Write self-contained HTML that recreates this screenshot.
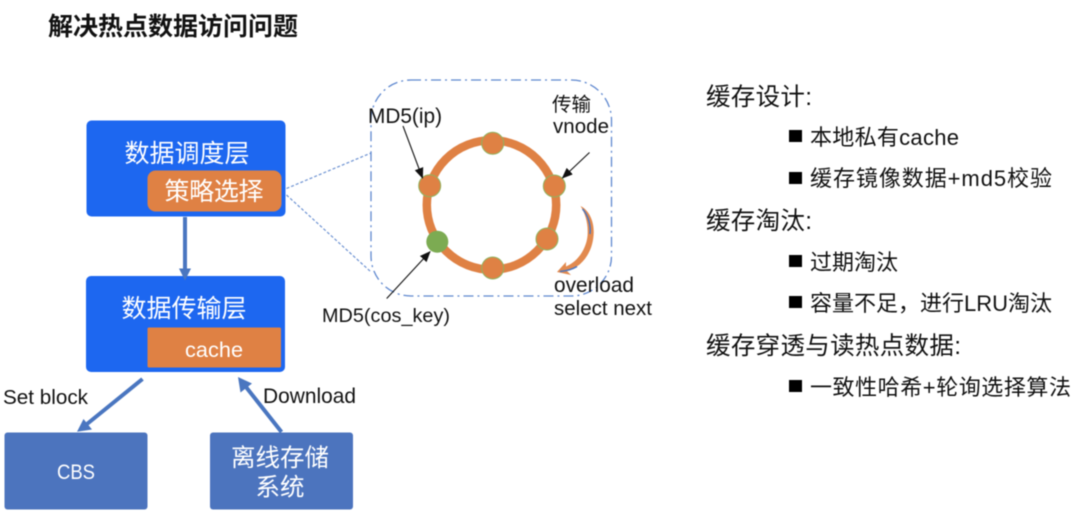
<!DOCTYPE html>
<html>
<head>
<meta charset="utf-8">
<style>
html,body{margin:0;padding:0;background:#fff;width:1080px;height:524px;overflow:hidden}
svg{display:block;filter:blur(.4px)}
text{font-family:"Liberation Sans","Noto Sans CJK SC",sans-serif;fill:#111}
.w{fill:#fff}
</style>
</head>
<body>
<svg width="1080" height="524" viewBox="0 0 1080 524" xmlns="http://www.w3.org/2000/svg">
<defs>
<marker id="a" markerWidth="11" markerHeight="10" refX="10" refY="5" orient="auto" markerUnits="userSpaceOnUse"><path d="M0 0.500L11 5L0 9.500Z" fill="#111"/></marker>
</defs>
<text x="48" y="35" font-size="25" font-weight="700" textLength="250">解决热点数据访问问题</text>

<!-- left boxes -->
<rect x="86.500" y="120.500" width="199" height="96" rx="5" fill="#1d67f0"/>
<rect x="147.500" y="170.500" width="134" height="41" rx="8" fill="#df8144"/>
<text class="w" x="124.500" y="162" font-size="25" textLength="125">数据调度层</text>
<text class="w" x="164.500" y="200" font-size="25" textLength="99">策略选择</text>

<rect x="86" y="276" width="199" height="96" rx="5" fill="#1d67f0"/>
<rect x="147.500" y="327.500" width="133.500" height="40" rx="1.500" fill="#df8144"/>
<text class="w" x="121.500" y="317" font-size="25" textLength="125">数据传输层</text>
<text class="w" x="185" y="357" font-size="21.700" textLength="58">cache</text>

<rect x="4.500" y="432.500" width="143" height="77" rx="3" fill="#4c74be"/>
<text class="w" x="57" y="479" font-size="21" textLength="38" lengthAdjust="spacingAndGlyphs">CBS</text>
<rect x="210" y="432.500" width="143" height="77" rx="3" fill="#4c74be"/>
<text class="w" x="231" y="466" font-size="24.500" textLength="98">离线存储</text>
<text class="w" x="255.500" y="495.500" font-size="24.500" textLength="49">系统</text>

<!-- thick arrows -->
<line x1="185" y1="217" x2="185" y2="270" stroke="#4a76c0" stroke-width="4"/>
<path d="M179 268.500L191 268.500L185 280.500Z" fill="#4a76c0"/>
<line x1="142.500" y1="379" x2="87" y2="424" stroke="#4a76c0" stroke-width="4"/>
<path d="M77 431.700L92 429.500L83.500 419Z" fill="#4a76c0"/>
<line x1="281.500" y1="432" x2="246" y2="387" stroke="#4a76c0" stroke-width="4"/>
<path d="M238 377L240.500 392.500L252 383.500Z" fill="#4a76c0"/>
<text x="3" y="404" font-size="20.700" textLength="85">Set block</text>
<text x="263" y="403" font-size="20.900" textLength="93">Download</text>

<!-- dotted connectors and dash-dot box -->
<line x1="286.500" y1="188.500" x2="371" y2="153" stroke="#6d92d2" stroke-width="1.200" stroke-dasharray="3 2"/>
<line x1="286.500" y1="195" x2="371" y2="272" stroke="#6d92d2" stroke-width="1.200" stroke-dasharray="3 2"/>
<rect x="371" y="80" width="240.500" height="216" rx="40" fill="none" stroke="#5f88cf" stroke-width="1.300" stroke-dasharray="10 4 2 4"/>

<!-- ring -->
<circle cx="491.500" cy="205" r="64.700" fill="none" stroke="#df8144" stroke-width="8.500"/>
<g fill="#df8144" stroke="#8fb35f" stroke-width="1">
<circle cx="492.700" cy="143.300" r="11"/>
<circle cx="429.700" cy="185.700" r="11"/>
<circle cx="554.300" cy="186" r="11"/>
<circle cx="547" cy="239" r="11"/>
<circle cx="492.700" cy="268" r="11"/>
</g>
<circle cx="437.300" cy="241.700" r="11" fill="#7cab52"/>

<!-- thin arrows -->
<g stroke="#111" stroke-width="1.100" fill="none" marker-end="url(#a)">
<line x1="403" y1="126" x2="422.500" y2="178"/>
<line x1="589.500" y1="152.500" x2="562.500" y2="178"/>
<line x1="386.700" y1="298.500" x2="430" y2="251.700"/>
</g>

<!-- curved arrow -->
<path d="M580.500 206C589 210 595 222 593.500 236C592 253 582 267 567 271L571 275L557 272L566 262L566 266.500C577 262 586 250 587.500 236C588.500 224 585.500 214 580.500 206Z" fill="#e28a4f"/>
<path d="M582.500 209C588 215 591 225 590 234" fill="none" stroke="#4a76c0" stroke-width="1.500"/>
<path d="M560 271.500C566 271 572 269.500 577 266.500" fill="none" stroke="#4a76c0" stroke-width="1.500"/>

<!-- ring labels -->
<text x="368" y="123" font-size="20.800" textLength="74">MD5(ip)</text>
<text x="552" y="111" font-size="19.500" textLength="39">传输</text>
<text x="553" y="133" font-size="20.500" textLength="56">vnode</text>
<text x="554" y="292" font-size="20.800" textLength="80">overload</text>
<text x="554" y="315" font-size="20.500" textLength="98">select next</text>
<text x="322" y="322" font-size="19.800" textLength="128">MD5(cos_key)</text>

<!-- right text -->
<text x="706" y="105" font-size="24.500" textLength="106">缓存设计:</text>
<rect x="789" y="130" width="13" height="12" fill="#000"/>
<text x="810" y="145" font-size="22" textLength="149">本地私有cache</text>
<rect x="789" y="172" width="13" height="12" fill="#000"/>
<text x="810" y="186" font-size="22" textLength="242">缓存镜像数据+md5校验</text>
<text x="706" y="229" font-size="24.500" textLength="106">缓存淘汰:</text>
<rect x="789" y="255" width="13" height="12" fill="#000"/>
<text x="810" y="270" font-size="22" textLength="88">过期淘汰</text>
<rect x="789" y="296" width="13" height="12" fill="#000"/>
<text x="810" y="311" font-size="22" textLength="242">容量不足，进行LRU淘汰</text>
<text x="706" y="354" font-size="24.500" textLength="255">缓存穿透与读热点数据:</text>
<rect x="789" y="380" width="13" height="12" fill="#000"/>
<text x="810" y="395" font-size="22" textLength="261">一致性哈希+轮询选择算法</text>
</svg>
</body>
</html>
